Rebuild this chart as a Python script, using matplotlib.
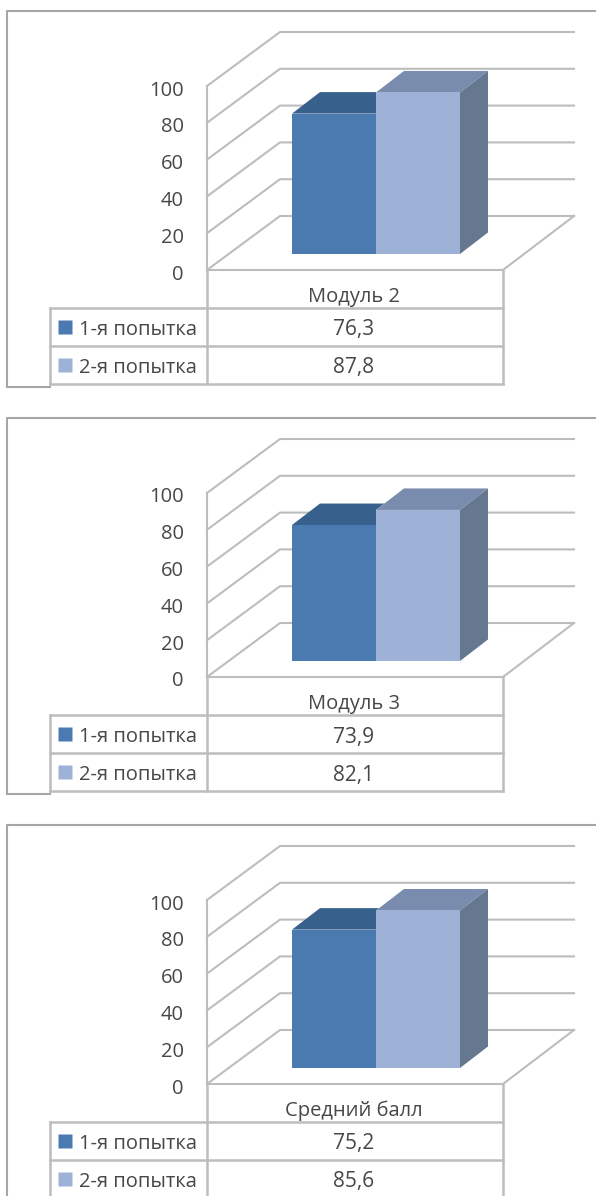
import matplotlib
matplotlib.use("Agg")
import matplotlib.pyplot as plt
from matplotlib.patches import Polygon

plt.rcParams['font.family'] = ['Open Sans', 'DejaVu Sans']

categories = ["Модуль 2", "Модуль 3", "Средний балл"]
series_names = ["1-я попытка", "2-я попытка"]
first_try = [76.3, 73.9, 75.2]
second_try = [87.8, 82.1, 85.6]
value_ticks = [0, 20, 40, 60, 80, 100]

W, H = 596, 1196
K = 1.84            # px per value unit
OFFSETS = [0, 407, 814]
C1, C1T = "#4A7AB0", "#38608C"
C2, C2T = "#9DB2D6", "#7A8CAD"
SIDE = "#667890"
GRID = "#BDBDBD"
FRAME = "#A6A6A6"
TXT = "#474747"
FS = 14.5

fig = plt.figure(figsize=(W / 100, H / 100), dpi=100, facecolor="white")


def panel(i):
    off = OFFSETS[i]
    top, bottom = off, min(off + 400, H)
    ax = fig.add_axes([0, 1 - bottom / H, 1, (bottom - top) / H])
    ax.axis("off")
    ax.patch.set_alpha(0)
    y0 = 270 + off
    ax.set_xlim(0, W)
    ax.set_ylim((y0 - bottom) / K, (y0 - top) / K)
    v = lambda px: (y0 - (px + off)) / K     # panel pixel row -> value units

    # outer frame
    ax.plot([6.5, 6.5, W], [v(387), v(11), v(11)], color=FRAME, lw=1.5)
    ax.plot([6.5, 50], [v(387), v(387)], color=FRAME, lw=1.5)

    # walls
    back0 = v(216)
    for t in value_ticks:
        yb = back0 + t
        ax.plot([207, 280, 574], [t, yb, yb], color=GRID, lw=1.5, solid_joinstyle="miter")
        ax.text(183.5, t - 4.5 / K, str(t), ha="right", va="center", fontsize=FS, color=TXT)
    ax.plot([207, 207], [0, 100], color=GRID, lw=1.5)
    ax.plot([574, 503, 207], [back0, 0, 0], color=GRID, lw=1.5)

    # bars
    base = v(254)
    dx, dy = 28, 21.5 / K
    xs = [292, 376, 460]
    vals = [first_try[i], second_try[i]]
    t1, t2 = base + vals[0], base + vals[1]

    # first bar: its top stops where the taller second bar hides it
    back1 = t1 + dy
    xi = xs[1] + dx * max(back1 - t2, 0) / dy
    ax.add_patch(Polygon([(xs[0], t1), (xs[1], t1), (xs[1], min(back1, t2)), (xi, back1),
                          (xs[0] + dx, back1)], closed=True, fc=C1T, ec="none", zorder=3))
    ax.bar((xs[0] + xs[1]) / 2, vals[0], bottom=base, width=xs[1] - xs[0], color=C1, zorder=4)

    # second bar
    ax.add_patch(Polygon([(xs[1], t2), (xs[2], t2), (xs[2] + dx, t2 + dy), (xs[1] + dx, t2 + dy)],
                         closed=True, fc=C2T, ec="none", zorder=4))
    ax.bar((xs[1] + xs[2]) / 2, vals[1], bottom=base, width=xs[2] - xs[1], color=C2, zorder=5)
    ax.add_patch(Polygon([(xs[2], base), (xs[2] + dx, base + dy), (xs[2] + dx, t2 + dy), (xs[2], t2)],
                         closed=True, fc=SIDE, ec="none", zorder=5))

    # table
    rows = [270, 308, 346, 384]
    for px in rows[1:]:
        ax.plot([50, 503], [v(px), v(px)], color=GRID, lw=1.8, zorder=2)
    ax.plot([50, 50], [v(rows[1]), v(rows[3])], color=GRID, lw=1.8)
    for x in (207, 503):
        ax.plot([x, x], [0, v(rows[3])], color=GRID, lw=1.8)
    ax.text(354, v(297), categories[i], ha="center", va="center", fontsize=FS, color=TXT)
    for r, (nm, vals_, c) in enumerate(zip(series_names, (first_try, second_try), (C1, C2))):
        yc = v(rows[r + 1] + 20)
        ax.plot([65], [yc + 0.5], marker="s", ms=9.5, color=c, mec="none", ls="none")
        ax.text(79, yc - 2 / K, nm, ha="left", va="center", fontsize=FS, color=TXT)
        ax.text(354, yc - 2 / K, f"{vals_[i]:.1f}".replace(".", ","), ha="center", va="center",
                fontsize=FS + 0.5, color=TXT)


for i in range(3):
    panel(i)

fig.savefig("out.png", dpi=100)
